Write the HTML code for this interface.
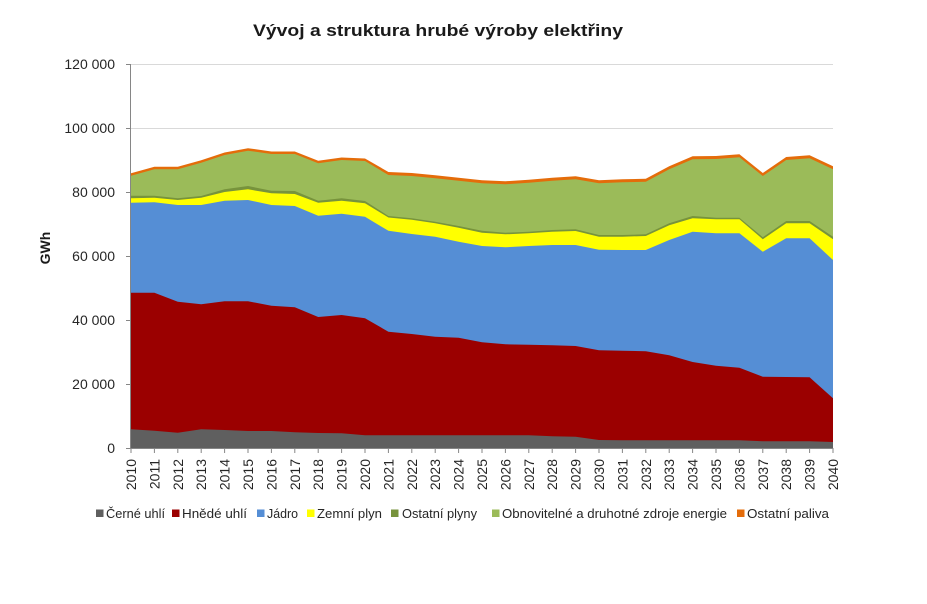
<!DOCTYPE html>
<html>
<head>
<meta charset="utf-8">
<style>
  html, body { margin:0; padding:0; background:#ffffff; }
  svg { display:block; }
  text { font-family: "Liberation Sans", "DejaVu Sans", sans-serif; }
</style>
</head>
<body>
<svg width="927" height="604" viewBox="0 0 927 604" xmlns="http://www.w3.org/2000/svg">
  <rect x="0" y="0" width="927" height="604" fill="#ffffff"/>

  <!-- Title -->
  <text x="253" y="36" font-size="17" font-weight="bold" fill="#1a1a1a" textLength="370" lengthAdjust="spacingAndGlyphs">Vývoj a struktura hrubé výroby elektřiny</text>

  <!-- Gridlines -->
  <g stroke="#d9d9d9" stroke-width="1">
    <line x1="131" y1="64.5" x2="833" y2="64.5"/>
    <line x1="131" y1="128.5" x2="833" y2="128.5"/>
    <line x1="131" y1="192.5" x2="833" y2="192.5"/>
    <line x1="131" y1="256.5" x2="833" y2="256.5"/>
    <line x1="131" y1="320.5" x2="833" y2="320.5"/>
    <line x1="131" y1="384.5" x2="833" y2="384.5"/>
  </g>

  <!-- Stacked areas (cumulative, drawn top to bottom) -->
  <polygon fill="#e46c0a" points="131,448 131,173.2 154.4,166.8 177.8,166.8 201.2,160.2 224.6,152.5 248,148.2 271.4,151.5 294.8,151.5 318.2,160.8 341.6,157.5 365,158.5 388.4,172 411.8,173 435.2,175.3 458.6,177.7 482,180.3 505.4,181.3 528.8,179.7 552.2,177.7 575.6,176.3 599,180.3 622.4,179.3 645.8,178.7 669.2,166.3 692.6,156.3 716,156 739.4,154.3 762.8,173 786.2,157 809.6,155.3 833,166.3 833,448"/>
  <polygon fill="#9bbb59" points="131,448 131,175.7 154.4,169.3 177.8,169.3 201.2,162.7 224.6,155 248,150.7 271.4,154 294.8,154 318.2,163.3 341.6,160 365,161 388.4,175 411.8,176 435.2,178.3 458.6,180.7 482,183.3 505.4,184.3 528.8,182.7 552.2,180.7 575.6,179.3 599,183.3 622.4,182.3 645.8,181.7 669.2,169.3 692.6,159.3 716,159 739.4,157.3 762.8,176 786.2,160 809.6,158.3 833,169.3 833,448"/>
  <polygon fill="#77933c" points="131,448 131,195.7 154.4,195.7 177.8,198.3 201.2,196 224.6,189.3 248,186 271.4,190.7 294.8,191 318.2,200.7 341.6,198.3 365,201 388.4,216 411.8,218.3 435.2,221.7 458.6,226 482,230.7 505.4,232.7 528.8,231.7 552.2,230 575.6,229.3 599,235 622.4,235 645.8,234.3 669.2,223.3 692.6,216 716,217.7 739.4,217.7 762.8,237.3 786.2,221 809.6,221 833,236.7 833,448"/>
  <polygon fill="#ffff00" points="131,448 131,198.3 154.4,197.7 177.8,200 201.2,197.7 224.6,192 248,189.3 271.4,193.3 294.8,194 318.2,202.7 341.6,200.7 365,203.3 388.4,217.5 411.8,219.8 435.2,223.3 458.6,227.7 482,232.7 505.4,234.3 528.8,233.3 552.2,231.7 575.6,231 599,236.7 622.4,236.7 645.8,236 669.2,225.3 692.6,218.3 716,219.3 739.4,219.3 762.8,239.3 786.2,223.3 809.6,223.3 833,239.3 833,448"/>
  <polygon fill="#558ed5" points="131,448 131,202.7 154.4,202.3 177.8,205 201.2,205 224.6,200.7 248,200 271.4,205 294.8,206 318.2,215.7 341.6,213.7 365,216.7 388.4,230.8 411.8,234 435.2,236.7 458.6,241.7 482,246 505.4,247.3 528.8,246 552.2,245 575.6,245 599,249.7 622.4,250 645.8,250 669.2,240 692.6,231.7 716,233.3 739.4,233.3 762.8,251.7 786.2,238.3 809.6,238.3 833,260 833,448"/>
  <polygon fill="#9b0000" points="131,448 131,292.7 154.4,292.7 177.8,301.7 201.2,304.3 224.6,301.3 248,301.3 271.4,305.7 294.8,307.3 318.2,317 341.6,315 365,318.3 388.4,331.7 411.8,334 435.2,336.7 458.6,337.7 482,342.3 505.4,344.3 528.8,344.7 552.2,345.3 575.6,346 599,350.3 622.4,350.7 645.8,351.3 669.2,355.3 692.6,362 716,365.7 739.4,367.7 762.8,376.7 786.2,377 809.6,377.3 833,398.3 833,448"/>
  <polygon fill="#5f5f5f" points="131,448 131,429.3 154.4,430.7 177.8,432.7 201.2,429.3 224.6,430 248,431 271.4,431 294.8,432.3 318.2,433 341.6,433.3 365,435.3 388.4,435.3 411.8,435.3 435.2,435.3 458.6,435.3 482,435.3 505.4,435.3 528.8,435.3 552.2,436.3 575.6,436.7 599,440 622.4,440.3 645.8,440.3 669.2,440.3 692.6,440.3 716,440.3 739.4,440.3 762.8,441.3 786.2,441.3 809.6,441.3 833,442 833,448"/>

  <!-- Axes -->
  <g stroke="#868686" stroke-width="1">
    <line x1="130.5" y1="64" x2="130.5" y2="448"/>
    <line x1="130.5" y1="448.5" x2="833" y2="448.5"/>
    <!-- y ticks -->
    <line x1="126" y1="64.5" x2="131" y2="64.5"/>
    <line x1="126" y1="128.5" x2="131" y2="128.5"/>
    <line x1="126" y1="192.5" x2="131" y2="192.5"/>
    <line x1="126" y1="256.5" x2="131" y2="256.5"/>
    <line x1="126" y1="320.5" x2="131" y2="320.5"/>
    <line x1="126" y1="384.5" x2="131" y2="384.5"/>
    <line x1="126" y1="448.5" x2="131" y2="448.5"/>
    <!-- x ticks -->
    <line x1="131" y1="448" x2="131" y2="453"/>
    <line x1="154.4" y1="448" x2="154.4" y2="453"/>
    <line x1="177.8" y1="448" x2="177.8" y2="453"/>
    <line x1="201.2" y1="448" x2="201.2" y2="453"/>
    <line x1="224.6" y1="448" x2="224.6" y2="453"/>
    <line x1="248" y1="448" x2="248" y2="453"/>
    <line x1="271.4" y1="448" x2="271.4" y2="453"/>
    <line x1="294.8" y1="448" x2="294.8" y2="453"/>
    <line x1="318.2" y1="448" x2="318.2" y2="453"/>
    <line x1="341.6" y1="448" x2="341.6" y2="453"/>
    <line x1="365" y1="448" x2="365" y2="453"/>
    <line x1="388.4" y1="448" x2="388.4" y2="453"/>
    <line x1="411.8" y1="448" x2="411.8" y2="453"/>
    <line x1="435.2" y1="448" x2="435.2" y2="453"/>
    <line x1="458.6" y1="448" x2="458.6" y2="453"/>
    <line x1="482" y1="448" x2="482" y2="453"/>
    <line x1="505.4" y1="448" x2="505.4" y2="453"/>
    <line x1="528.8" y1="448" x2="528.8" y2="453"/>
    <line x1="552.2" y1="448" x2="552.2" y2="453"/>
    <line x1="575.6" y1="448" x2="575.6" y2="453"/>
    <line x1="599" y1="448" x2="599" y2="453"/>
    <line x1="622.4" y1="448" x2="622.4" y2="453"/>
    <line x1="645.8" y1="448" x2="645.8" y2="453"/>
    <line x1="669.2" y1="448" x2="669.2" y2="453"/>
    <line x1="692.6" y1="448" x2="692.6" y2="453"/>
    <line x1="716" y1="448" x2="716" y2="453"/>
    <line x1="739.4" y1="448" x2="739.4" y2="453"/>
    <line x1="762.8" y1="448" x2="762.8" y2="453"/>
    <line x1="786.2" y1="448" x2="786.2" y2="453"/>
    <line x1="809.6" y1="448" x2="809.6" y2="453"/>
    <line x1="833" y1="448" x2="833" y2="453"/>
  </g>

  <!-- Y labels -->
  <g font-size="14" fill="#262626" text-anchor="end">
    <text x="115" y="69">120 000</text>
    <text x="115" y="133">100 000</text>
    <text x="115" y="197">80 000</text>
    <text x="115" y="261">60 000</text>
    <text x="115" y="325">40 000</text>
    <text x="115" y="389">20 000</text>
    <text x="115" y="453">0</text>
  </g>

  <!-- Y axis title -->
  <text transform="translate(50,248) rotate(-90)" font-size="14" font-weight="bold" fill="#1a1a1a" text-anchor="middle">GWh</text>

  <!-- X labels -->
  <g font-size="14" fill="#262626" text-anchor="end">
    <text transform="translate(136,459) rotate(-90)">2010</text>
    <text transform="translate(159.4,459) rotate(-90)">2011</text>
    <text transform="translate(182.8,459) rotate(-90)">2012</text>
    <text transform="translate(206.2,459) rotate(-90)">2013</text>
    <text transform="translate(229.6,459) rotate(-90)">2014</text>
    <text transform="translate(253,459) rotate(-90)">2015</text>
    <text transform="translate(276.4,459) rotate(-90)">2016</text>
    <text transform="translate(299.8,459) rotate(-90)">2017</text>
    <text transform="translate(323.2,459) rotate(-90)">2018</text>
    <text transform="translate(346.6,459) rotate(-90)">2019</text>
    <text transform="translate(370,459) rotate(-90)">2020</text>
    <text transform="translate(393.4,459) rotate(-90)">2021</text>
    <text transform="translate(416.8,459) rotate(-90)">2022</text>
    <text transform="translate(440.2,459) rotate(-90)">2023</text>
    <text transform="translate(463.6,459) rotate(-90)">2024</text>
    <text transform="translate(487,459) rotate(-90)">2025</text>
    <text transform="translate(510.4,459) rotate(-90)">2026</text>
    <text transform="translate(533.8,459) rotate(-90)">2027</text>
    <text transform="translate(557.2,459) rotate(-90)">2028</text>
    <text transform="translate(580.6,459) rotate(-90)">2029</text>
    <text transform="translate(604,459) rotate(-90)">2030</text>
    <text transform="translate(627.4,459) rotate(-90)">2031</text>
    <text transform="translate(650.8,459) rotate(-90)">2032</text>
    <text transform="translate(674.2,459) rotate(-90)">2033</text>
    <text transform="translate(697.6,459) rotate(-90)">2034</text>
    <text transform="translate(721,459) rotate(-90)">2035</text>
    <text transform="translate(744.4,459) rotate(-90)">2036</text>
    <text transform="translate(767.8,459) rotate(-90)">2037</text>
    <text transform="translate(791.2,459) rotate(-90)">2038</text>
    <text transform="translate(814.6,459) rotate(-90)">2039</text>
    <text transform="translate(838,459) rotate(-90)">2040</text>
  </g>

  <!-- Legend -->
  <g font-size="13" fill="#262626">
    <rect x="96" y="509.5" width="7.5" height="7.5" fill="#5f5f5f"/>
    <text x="106" y="518" textLength="59" lengthAdjust="spacingAndGlyphs">Černé uhlí</text>
    <rect x="172" y="509.5" width="7.5" height="7.5" fill="#9b0000"/>
    <text x="182" y="518" textLength="65" lengthAdjust="spacingAndGlyphs">Hnědé uhlí</text>
    <rect x="257" y="509.5" width="7.5" height="7.5" fill="#558ed5"/>
    <text x="267" y="518" textLength="31" lengthAdjust="spacingAndGlyphs">Jádro</text>
    <rect x="307" y="509.5" width="7.5" height="7.5" fill="#ffff00"/>
    <text x="317" y="518" textLength="65" lengthAdjust="spacingAndGlyphs">Zemní plyn</text>
    <rect x="391" y="509.5" width="7.5" height="7.5" fill="#77933c"/>
    <text x="402" y="518" textLength="75" lengthAdjust="spacingAndGlyphs">Ostatní plyny</text>
    <rect x="492" y="509.5" width="7.5" height="7.5" fill="#9bbb59"/>
    <text x="502" y="518" textLength="225" lengthAdjust="spacingAndGlyphs">Obnovitelné a druhotné zdroje energie</text>
    <rect x="737" y="509.5" width="7.5" height="7.5" fill="#e46c0a"/>
    <text x="747" y="518" textLength="82" lengthAdjust="spacingAndGlyphs">Ostatní paliva</text>
  </g>
</svg>
</body>
</html>
